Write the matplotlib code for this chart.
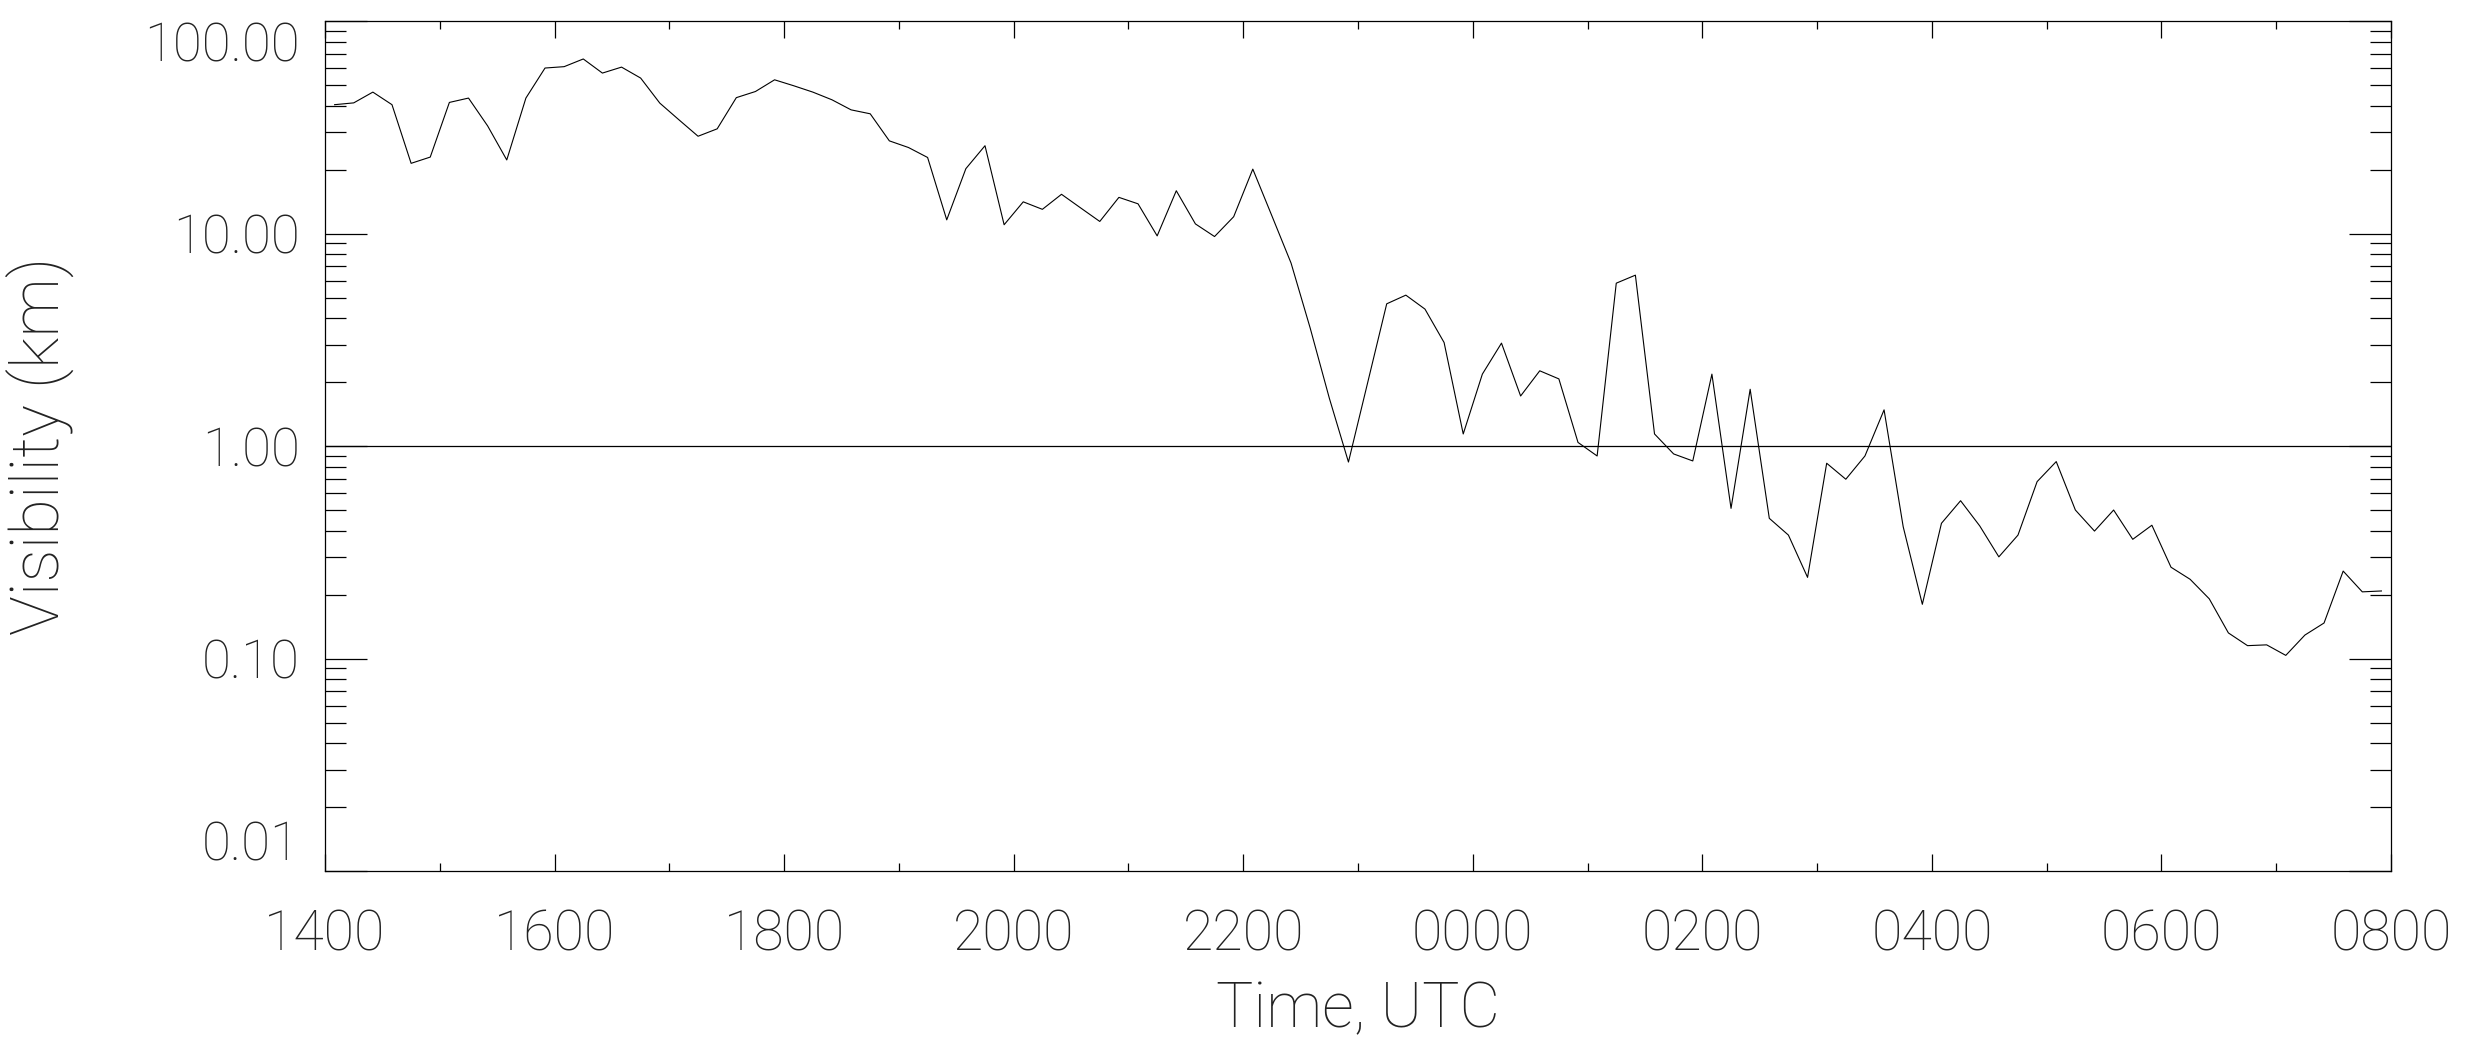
import numpy as np
import pandas as pd
import matplotlib
matplotlib.use("Agg")
import matplotlib.pyplot as plt
import matplotlib.dates as mdates
from matplotlib.ticker import LogLocator, NullFormatter

plt.rcParams['font.family'] = ['Roboto', 'DejaVu Sans']

# visibility (km), one value every 10 min from 14:05 UTC
tStart = "2000-01-01 14:05"
visKm = [40.4, 41.2, 46.3, 40.4, 21.4, 22.9, 41.4, 43.4, 32.1, 22.2,
         43.4, 60.1, 61.0, 66.3, 56.9, 60.7, 53.9, 41.1, 34.3, 28.7,
         31.1, 43.6, 46.6, 52.9, 49.6, 46.3, 42.6, 38.2, 36.6, 27.3,
         25.4, 22.8, 11.6, 20.2, 25.9, 11.0, 14.1, 13.0, 15.3, 13.2,
         11.4, 14.8, 13.8, 9.75, 15.9, 11.1, 9.68, 12.0, 20.1, 12.1,
         7.26, 3.59, 1.68, 0.841, 1.98, 4.67, 5.13, 4.41, 3.07, 1.14,
         2.18, 3.05, 1.72, 2.26, 2.07, 1.04, 0.898, 5.84, 6.37, 1.14,
         0.918, 0.851, 2.18, 0.509, 1.85, 0.457, 0.381, 0.241, 0.830, 0.698,
         0.898, 1.48, 0.417, 0.180, 0.433, 0.553, 0.421, 0.301, 0.381, 0.680,
         0.845, 0.500, 0.398, 0.500, 0.364, 0.424, 0.269, 0.236, 0.191, 0.132,
         0.115, 0.116, 0.1035, 0.129, 0.147, 0.258, 0.206, 0.208]
yTicks = [0.01, 0.1, 1.0, 10.0, 100.0]
yTickLabels = ["0.01", "0.10", "1.00", "10.00", "100.00"]
threshold = 1.0
xStart, xEnd = "2000-01-01 14:00", "2000-01-02 08:00"

times = pd.date_range(tStart, periods=len(visKm), freq="10min")

fig = plt.figure(figsize=(24.68, 10.52), dpi=100)
ax = fig.add_axes([0.1317, 0.172, 0.8371, 0.808])

ax.plot(times, visKm, color='black', lw=0.8)
ax.axhline(threshold, color='black', lw=0.9)

ax.set_yscale('log')
ax.set_ylim(yTicks[0], yTicks[-1])
ax.set_xlim(pd.Timestamp(xStart), pd.Timestamp(xEnd))

ax.set_yticks(yTicks)
ax.set_yticklabels(yTickLabels)
ax.yaxis.set_minor_locator(LogLocator(base=10, subs=np.arange(2, 10)))
ax.yaxis.set_minor_formatter(NullFormatter())

ax.xaxis.set_major_locator(mdates.HourLocator(byhour=range(0, 24, 2)))
ax.xaxis.set_minor_locator(mdates.HourLocator())
ax.xaxis.set_major_formatter(mdates.DateFormatter('%H%M'))

for s in ax.spines.values():
    s.set_linewidth(0.9)

ax.tick_params(axis='y', which='major', direction='in', length=30, width=0.9,
               left=True, right=True, labelsize=38, pad=18)
ax.tick_params(axis='y', which='minor', direction='in', length=15, width=0.9,
               left=True, right=True)
ax.tick_params(axis='x', which='major', direction='in', length=12, width=0.9,
               top=True, bottom=True, labelsize=40, pad=27)
ax.tick_params(axis='x', which='minor', direction='in', length=6, width=0.9,
               top=True, bottom=True)

txtCol = '#222222'
for lab in ax.get_xticklabels() + ax.get_yticklabels():
    lab.set_fontweight(100)
    lab.set_color(txtCol)
ylabs = ax.get_yticklabels()
ylabs[0].set_verticalalignment('bottom')
ylabs[-1].set_verticalalignment('top')

# axis titles placed like the original
fig.text(0.5502, 0.0238, "Time, UTC", fontsize=45, fontweight=100, color=txtCol,
         ha='center', va='baseline')
fig.text(0.0162, 0.576, "Visibility (km)", fontsize=48, fontweight=100, color=txtCol,
         rotation=90, ha='center', va='center')

fig.savefig("out.png", dpi=100)
